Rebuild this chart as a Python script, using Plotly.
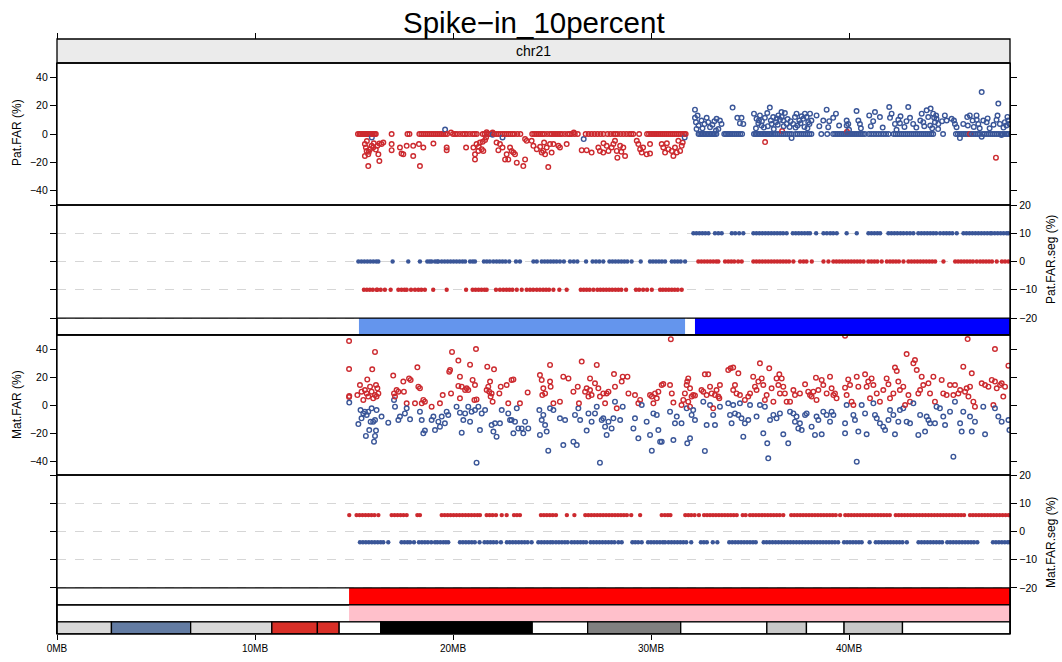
import plotly.graph_objects as go

# ---------------- data ----------------
CHR_LEN = 48.13  # MB
x_tick_vals = [0, 10, 20, 30, 40]
x_tick_text = ["0MB", "10MB", "20MB", "30MB", "40MB"]
far_ticks = [40, 20, 0, -20, -40]
seg_ticks = [20, 10, 0, -10, -20]

# Pat.FAR : points on the zero line (x in MB)
pat_red_zero_x = [15.2,15.28,15.35,15.43,15.5,15.55,15.6,15.65,15.7,15.78,15.85,15.93,16.0,16.05,16.1,16.9,17.7,17.8,
                  18.3,18.4,18.5,18.6,18.7,18.8,18.9,19.0,19.1,19.2,19.3,19.4,19.5,19.6,19.7,
                  20.0,20.1,20.2,20.35,20.5,20.6,20.7,20.85,21.0,21.1,21.2,21.5,21.6,21.7,21.8,21.9,22.0,22.1,
                  22.2,22.3,22.4,22.5,22.6,22.7,22.8,22.9,23.0,23.1,23.25,23.4,24.0,24.1,24.2,24.3,24.4,24.5,
                  24.6,24.75,24.9,25.0,25.1,25.2,25.3,25.4,25.5,25.65,25.8,25.9,26.0,26.15,26.3,26.7,26.85,27.0,
                  27.15,27.3,27.45,27.6,27.8,27.95,28.1,28.2,28.3,28.45,28.6,28.75,28.9,29.0,29.1,29.4,
                  29.8,29.9,30.0,30.1,30.2,30.3,30.4,30.5,30.6,30.7,30.8,30.9,31.0,31.1,31.2,31.3,31.4,31.5,
                  31.6,31.68,31.75]
pat_blue_zero_x = [32.4,32.48,32.55,32.63,32.7,32.78,32.85,32.93,33.0,33.08,33.15,33.22,33.3,33.7,33.78,33.85,
                   33.93,34.0,34.1,34.2,34.3,34.4,34.5,34.6,35.2,35.28,35.35,35.43,35.5,35.58,35.65,35.73,35.8,
                   35.88,35.95,36.02,36.1,36.2,36.3,36.4,36.5,36.6,36.7,36.8,36.9,37.0,37.1,37.3,37.4,37.5,37.6,
                   37.7,37.8,37.9,38.0,38.1,38.6,38.9,39.2,39.3,39.4,39.5,39.6,39.7,39.8,39.9,40.0,40.1,40.2,
                   40.3,40.4,40.5,40.6,40.7,40.8,41.0,41.12,41.25,41.37,41.5,41.62,41.75,41.87,42.0,42.25,42.35,
                   42.45,42.55,42.65,42.75,42.85,42.95,43.05,43.15,43.25,43.35,43.45,43.55,43.65,43.75,43.85,
                   43.95,44.05,44.15,44.25,44.75,45.4,45.5,45.6,45.7,45.8,45.9,46.0,46.1,46.2,46.3,46.4,46.5,
                   46.6,46.75,46.85,46.95,47.05,47.15,47.25,47.35,47.45,47.55,47.65,47.75,47.85,47.95,48.0,48.08]
# Pat.FAR : other points (MB, %)
pat_red_pts = [(15.55,-7.1),(15.6,-9.5),(15.64,-11.9),(15.72,-14.3),(15.55,-15.5),(15.81,-10.7),(15.89,-8.3),
               (15.97,-9.5),(15.72,-22.6),(16.18,-8.3),(16.28,-6.7),(16.39,-7.1),(16.48,-6.0),(16.23,-14.3),
               (16.28,-19.0),(16.9,-7.1),(16.9,-11.4),(17.32,-9.5),(17.4,-13.8),(17.49,-14.3),(17.66,-8.3),
               (17.99,-8.3),(17.99,-15.5),(18.28,-7.1),(18.5,-9.5),(18.33,-22.6),(19.01,-6.7),(19.68,-9.5),
               (19.68,-11.4),(20.66,-9.5),(21.03,-9.5),(21.11,-14.3),(21.11,-17.9),(21.19,-7.1),(21.28,-11.9),
               (21.36,-6.0),(21.45,-10.7),(21.53,-11.9),(21.62,-4.3),(21.67,-2.4),(21.7,1.2),(22.2,-6.0),
               (22.29,-11.4),(22.37,-7.1),(22.63,-17.9),(22.71,-14.3),(22.79,-17.9),(22.88,-9.5),(22.96,-11.9),
               (23.05,-13.1),(23.13,-14.3),(23.22,-20.2),(23.55,-22.6),(23.64,-17.9),(23.64,-3.6),(23.72,-4.8),
               (23.97,-4.8),(24.06,-8.3),(24.23,-10.7),(24.48,-13.1),(24.56,-11.9),(24.65,-14.3),(24.73,-9.5),
               (24.81,-23.3),(24.9,-7.1),(24.98,-13.1),(25.07,-7.1),(25.32,-8.3),(25.4,-9.5),(25.74,-7.1),
               (26.5,-11.4),(26.75,-11.4),(27.0,-13.1),(27.34,-9.5),(27.42,-11.9),(27.59,-13.1),(27.76,-8.3),
               (27.85,-11.9),(28.01,-9.5),(28.18,-4.8),(28.27,-11.9),(28.3,-16.7),(28.44,-8.3),(28.6,-9.5),
               (28.69,-15.5),(29.28,-4.8),(29.36,-7.1),(29.45,-10.7),(29.53,-13.1),(29.78,-14.3),(29.95,-7.1),
               (29.95,-13.8),(30.54,-7.1),(30.62,-9.5),(30.71,-13.1),(30.88,-10.7),(31.05,-11.9),(31.13,-15.5),
               (31.21,-9.5),(31.38,-4.8),(31.47,-11.9),(31.55,-8.3),(19.9,1.0),(22.0,1.0),(26.1,1.0),
               (15.65,-5.0),(15.75,-12.5),(16.0,-6.5),(16.1,-11.0),(21.3,-9.0),(21.5,-5.5),(22.5,-9.5),
               (24.4,-9.0),(24.6,-6.0),(27.6,-6.5),(28.1,-7.0),(28.5,-12.5),(29.6,-9.5),(30.8,-6.5),
               (31.3,-13.0),(31.6,-6.0),
               (36.62,2.1),(35.76,-5.7),(39.9,1.6),(46.11,0.0),(47.42,-16.7)]
pat_blue_pts = [(15.9,-2.4),(19.6,3.1),(22.0,-0.5),(22.5,-2.4),(26.6,-3.6),(31.7,-2.4),
                (32.22,17.1),(32.22,11.4),(32.27,8.3),(32.3,3.6),(32.55,9.5),(32.81,11.4),(32.89,8.3),(32.98,4.8),
                (33.28,2.4),(33.31,10.7),(33.48,9.5),(33.56,7.1),(34.12,18.6),(34.36,11.4),(34.49,7.6),
                (34.57,11.4),(34.66,7.1),(35.2,14.3),(35.33,10.7),(35.42,7.6),(35.5,13.1),(35.58,6.0),
                (35.75,11.4),(35.87,14.8),(36.0,18.6),(36.09,7.1),(36.17,11.9),(36.31,8.3),(36.43,13.1),
                (36.51,10.0),(36.59,15.5),(36.68,9.5),(36.76,14.8),(36.85,7.1),(37.1,-2.9),(37.18,7.1),
                (37.27,11.9),(37.35,14.3),(37.49,9.5),(37.69,10.7),(37.77,14.3),(37.86,11.9),(37.94,8.3),
                (38.03,14.3),(38.36,13.1),(38.7,9.5),(38.87,17.1),(38.95,4.8),(39.2,11.4),(39.34,14.3),
                (39.88,9.5),(39.88,6.0),(39.96,7.1),(40.38,16.2),(40.47,9.5),(40.55,7.1),(41.02,13.1),
                (41.22,9.0),(41.31,15.5),(41.56,11.9),(42.03,19.0),(42.07,11.4),(42.15,14.3),(42.32,7.1),
                (42.49,10.0),(42.57,7.6),(42.99,19.0),(43.08,11.4),(43.24,7.1),(43.67,14.3),(43.75,8.3),
                (43.92,16.7),(44.0,11.9),(44.12,17.9),(44.25,14.3),(44.34,8.3),(44.42,10.7),(44.51,7.1),
                (44.84,13.1),(44.93,9.5),(45.18,10.7),(45.35,7.1),(45.43,4.8),(45.77,7.1),(45.97,11.9),
                (46.1,13.1),(46.24,9.5),(46.44,13.1),(46.53,7.1),(46.7,29.5),(46.78,9.5),(46.95,8.3),
                (47.45,10.0),(47.54,21.4),(47.62,7.1),(47.87,8.3),(48.04,9.5),(48.1,7.1),(45.6,-2.9),
                (46.7,-1.9),(47.7,-0.7),(35.3,4.0),(35.6,9.0),(35.9,5.5),(36.2,3.5),(36.4,6.5),(36.6,12.0),
                (36.9,10.5),(37.0,5.0),(37.4,6.0),(37.6,12.5),(37.9,4.0),(38.1,9.5),(43.8,5.5),(44.1,6.0),
                (44.3,11.5),(44.5,3.5),(44.7,9.0),(42.8,5.0),(46.3,5.0),(46.6,4.0),(47.0,11.0),(47.3,6.5),
                (47.8,4.5),(48.0,12.0),(32.4,6.0),(32.6,4.0),(33.1,6.5),(33.4,3.5),(40.0,3.0),(40.6,4.0),
                (41.1,5.5),(41.7,4.5),(42.4,3.0),(39.0,9.0),(39.5,6.0),(38.5,5.5),(32.35,13.0),(32.7,7.0),
                (33.2,9.0),(35.45,9.5),(35.7,4.5),(36.05,9.5),(36.35,11.0),(36.7,5.5),(37.05,9.0),(37.3,4.5),
                (37.55,7.5),(37.75,5.0),(38.0,7.0),(42.6,12.5),(42.9,9.0),(43.4,4.5),(43.6,9.5),(44.2,4.0),
                (44.4,13.0),(45.3,9.5),(46.0,6.0),(46.45,10.0),(47.1,4.0),(47.5,13.0),(47.95,6.0)]

# Mat.FAR points (MB, %)
mat_red_pts = [(14.75,45.7),(14.75,25.7),(14.75,5.7),(16.06,37.9),(19.95,37.9),(21.16,40.0),(31.0,47.0),
               (14.76,6.4),(15.17,7.1),(15.3,14.3),(15.38,9.5),(15.47,3.6),(15.55,10.7),(15.64,8.3),(15.67,18.3),
               (15.72,6.0),(15.81,13.1),(15.89,9.5),(15.92,25.5),(15.97,4.8),(16.06,7.1),(16.11,14.3),(16.14,6.0),
               (16.18,11.9),(16.23,8.3),(16.98,21.0),(17.02,8.3),(17.07,6.0),(17.15,10.7),(17.24,9.5),(17.49,16.7),
               (17.52,9.5),(17.66,1.2),(17.78,19.0),(17.86,17.9),(18.08,1.2),(18.2,26.9),(18.25,13.1),(18.33,11.9),
               (18.42,1.2),(18.5,3.6),(18.58,2.4),(18.92,-1.2),(19.34,1.2),(19.48,7.1),(19.81,23.8),(19.85,25.0),
               (19.9,8.3),(20.27,31.7),(20.35,20.2),(20.27,13.6),(20.35,4.8),(20.44,13.1),(20.61,10.7),
               (20.69,11.9),(20.77,10.7),(20.86,28.8),(20.99,17.9),(21.08,3.6),(21.11,14.3),(21.19,4.0),
               (21.7,10.7),(21.73,27.4),(21.78,13.1),(21.83,9.5),(21.87,16.7),(21.9,6.0),(21.95,8.3),(22.0,2.4),
               (22.07,25.5),(22.34,8.3),(22.41,13.1),(22.71,14.3),(22.79,1.2),(22.96,17.9),(23.05,18.3),
               (23.38,1.2),(23.77,9.0),(24.39,21.4),(24.48,17.9),(24.51,7.1),(24.56,11.9),(24.65,8.3),
               (24.9,28.6),(24.9,16.7),(24.93,13.1),(25.07,1.2),(25.4,2.4),(25.57,20.2),(25.83,19.0),(26.08,9.5),
               (26.3,13.1),(26.36,1.2),(26.5,31.0),(26.67,9.5),(26.75,11.9),(26.84,6.0),(26.92,10.7),(26.92,19.0),
               (27.0,7.1),(27.17,15.5),(27.26,28.6),(27.34,11.9),(27.42,6.0),(27.59,8.3),(27.68,1.2),(27.76,8.3),
               (27.85,9.5),(28.13,22.1),(28.18,13.1),(28.27,-2.4),(28.52,16.7),(28.57,20.2),(28.81,20.2),
               (28.86,8.3),(29.19,7.1),(29.36,1.2),(29.45,3.6),(29.95,7.1),(30.04,6.0),(30.12,1.2),(30.2,8.3),
               (30.29,4.8),(30.37,9.5),(30.54,14.3),(30.62,15.0),(30.96,14.3),(31.05,8.3),(31.13,1.7),
               (31.54,0.0),(31.63,3.6),(31.71,8.3),(31.8,14.3),(31.83,16.7),(31.88,19.0),(31.97,11.9),(32.05,6.0),
               (32.13,7.1),(32.22,6.7),(31.88,2.4),(31.97,-1.2),(32.55,10.7),(32.64,9.5),(32.72,21.9),(32.89,21.9),
               (32.81,7.1),(32.98,13.1),(33.06,8.3),(33.23,7.1),(33.14,-2.4),(33.31,10.7),(33.4,6.0),(33.48,14.3),
               (33.45,4.8),(33.9,25.0),(34.02,26.2),(34.15,26.7),(34.24,14.3),(34.32,8.3),(34.41,22.6),
               (34.15,10.7),(34.49,7.1),(34.74,3.6),(34.91,6.0),(35.0,8.3),(35.16,20.2),(35.25,13.1),(35.33,10.7),
               (35.5,29.8),(35.42,16.7),(35.59,19.0),(35.67,14.3),(35.75,3.6),(35.84,7.1),(35.97,26.2),
               (36.09,11.9),(36.18,2.4),(36.34,19.0),(36.43,14.3),(36.48,21.9),(36.51,8.3),(36.6,19.0),
               (36.68,13.1),(36.76,8.3),(36.85,2.4),(37.02,2.4),(37.19,10.7),(37.27,7.1),(37.52,8.3),(37.78,14.8),
               (37.94,9.5),(38.03,7.1),(38.11,6.0),(38.2,9.5),(38.33,19.5),(38.36,3.6),(38.45,10.7),(38.62,17.9),
               (38.7,14.3),(38.87,8.3),(39.04,20.2),(39.12,11.9),(39.21,7.1),(39.29,8.3),(39.37,4.8),(39.8,12.4),
               (39.8,49.5),(39.88,7.1),(39.96,18.3),(40.05,14.3),(40.13,2.4),(40.22,0.0),(40.39,20.2),(40.47,13.1),
               (40.81,21.9),(40.89,13.1),(40.97,16.7),(41.06,4.8),(41.14,19.0),(41.23,14.3),(41.4,8.3),
               (41.56,2.4),(41.73,10.7),(41.9,19.0),(41.99,14.8),(42.07,4.8),(42.24,8.3),(42.32,26.7),
               (42.41,24.3),(42.49,16.7),(42.57,10.7),(42.74,13.1),(42.83,0.0),(42.91,36.4),(43.0,7.1),
               (43.08,2.4),(43.25,29.8),(43.33,32.1),(43.42,25.0),(43.5,8.3),(43.59,10.7),(43.67,20.2),
               (43.75,14.3),(44.01,15.5),(44.09,8.3),(44.26,20.2),(44.34,2.4),(44.68,17.9),(44.76,8.3),
               (44.93,7.1),(45.1,14.3),(45.27,7.1),(45.35,14.3),(45.52,8.3),(45.61,10.7),(45.77,27.4),(45.86,9.5),
               (45.94,11.9),(45.99,47.1),(46.03,6.0),(46.11,13.1),(46.2,22.6),(46.28,2.4),(46.36,-1.2),
               (46.7,15.5),(46.87,14.3),(47.04,13.1),(47.21,17.9),(47.29,0.0),(47.37,40.0),(47.37,16.7),
               (47.46,11.9),(47.63,14.3),(47.71,15.5),(47.79,6.0),(47.88,13.1),(48.05,28.1)]
mat_blue_pts = [(14.76,1.7),(15.22,-13.6),(15.33,-3.6),(15.38,-9.5),(15.47,-6.0),(15.55,-4.8),(15.6,-22.1),
                (15.64,-7.1),(15.72,-4.8),(15.77,-17.9),(15.84,-11.9),(15.89,-2.4),(15.97,-11.9),(16.01,-26.2),
                (16.06,-10.7),(16.06,-22.1),(16.11,-18.3),(16.14,-3.6),(16.39,-8.3),(16.73,-12.6),(17.02,3.6),
                (17.07,-1.2),(17.24,-10.7),(17.32,-8.3),(17.57,-6.0),(17.66,-2.4),(17.83,-10.2),(18.33,-4.8),
                (18.42,-10.7),(18.5,-20.2),(18.58,-18.3),(18.92,-10.7),(19.01,-8.3),(19.09,-17.9),(19.26,-11.9),
                (19.34,-15.5),(19.43,-8.3),(19.59,-13.1),(19.68,-4.8),(19.76,-7.1),(20.18,-1.2),(20.35,-5.5),
                (20.44,-19.8),(20.52,-10.7),(20.61,-6.0),(20.77,-1.2),(20.86,-11.9),(20.94,-4.8),(21.11,-3.6),
                (21.19,-41.2),(21.28,-1.2),(21.36,-17.9),(21.45,-6.0),(21.62,-3.6),(21.95,-14.3),(22.04,-19.0),
                (22.12,-13.1),(22.2,-22.6),(22.37,-13.1),(22.46,-3.6),(22.79,-6.0),(22.88,-10.7),(22.96,-10.7),
                (23.05,-20.2),(23.13,-11.9),(23.22,-2.4),(23.3,-16.7),(23.47,-16.7),(23.55,-20.2),(23.64,-11.9),
                (23.8,-16.7),(24.36,-3.6),(24.39,-21.4),(24.48,-10.7),(24.56,-7.1),(24.65,-14.3),(24.73,-19.0),
                (24.81,-32.6),(24.9,-2.4),(25.07,-3.6),(25.4,-9.5),(25.57,-28.6),(25.66,-10.7),(26.08,-26.2),
                (26.16,-7.1),(26.25,-28.6),(26.33,-2.4),(26.42,-10.7),(26.75,-18.3),(26.84,-6.0),(27.0,-11.9),
                (27.17,-6.0),(27.26,-1.2),(27.42,-41.2),(27.51,-10.7),(27.59,-9.5),(27.68,-15.5),(27.76,-21.4),
                (27.85,-11.9),(28.01,-16.7),(28.1,-9.5),(28.18,2.4),(28.44,-10.7),(28.57,-1.2),(29.11,-16.7),
                (29.19,-9.5),(29.36,-23.8),(29.53,0.0),(29.78,-11.9),(29.95,-21.4),(30.04,-32.6),(30.12,-6.0),
                (30.29,-7.1),(30.37,-17.9),(30.46,-26.2),(30.54,-26.2),(30.96,-4.8),(31.13,-25.0),(31.21,-13.1),
                (31.3,-8.3),(31.54,-13.1),(31.8,-2.4),(31.83,-27.4),(31.97,-23.8),(32.05,-7.1),(32.13,-3.6),
                (32.22,-10.7),(32.64,2.4),(32.72,-32.8),(32.81,-14.3),(32.98,0.0),(33.14,-7.1),(33.23,-14.3),
                (33.48,-1.2),(33.9,1.2),(33.99,-7.1),(34.07,-13.1),(34.15,0.0),(34.24,-6.0),(34.41,-7.1),
                (34.49,1.2),(34.57,-9.5),(34.66,-22.6),(34.74,-13.1),(34.91,-10.7),(35.0,0.0),(35.33,-8.3),
                (35.5,0.0),(35.67,-20.2),(35.75,-1.2),(35.87,-27.4),(35.92,-38.1),(36.01,-10.7),(36.18,-7.1),
                (36.34,-9.5),(36.51,-6.0),(36.68,-20.9),(36.93,-27.4),(37.02,-4.8),(37.19,-6.0),(37.27,-11.9),
                (37.35,-8.3),(37.44,-16.7),(37.52,-13.1),(37.61,-17.9),(37.78,-7.1),(37.86,-6.0),(38.11,-15.5),
                (38.28,-21.4),(38.36,-8.3),(38.45,-10.7),(38.62,-20.9),(38.7,-4.8),(38.87,-7.1),(39.04,-11.9),
                (39.12,-4.8),(39.21,-7.1),(39.8,-13.1),(39.8,-20.2),(39.88,0.0),(40.22,-7.1),(40.3,-10.7),
                (40.39,-40.5),(40.47,-19.0),(40.64,0.0),(40.81,-6.0),(40.89,-20.9),(41.23,1.2),(41.31,-7.1),
                (41.4,-9.5),(41.56,-13.1),(41.73,-15.5),(41.82,-17.9),(41.99,-10.7),(42.07,-3.6),(42.24,-7.1),
                (42.32,-20.9),(42.49,-11.9),(42.57,-3.6),(42.74,-2.4),(42.91,-11.9),(43.08,-13.1),(43.25,1.2),
                (43.5,-21.4),(43.59,-7.1),(43.84,-19.0),(43.92,-8.3),(44.01,-10.7),(44.09,-13.1),(44.34,-13.1),
                (44.42,-1.2),(44.59,-2.4),(44.76,-8.3),(44.85,-14.3),(45.1,-4.8),(45.27,-36.9),(45.35,2.4),
                (45.61,-13.1),(45.69,-19.0),(45.77,-4.8),(46.11,-8.3),(46.2,-19.0),(46.36,-11.9),(46.78,-1.2),
                (46.87,-20.9),(47.37,-2.4),(47.54,-8.3),(47.71,-11.9),(48.05,-10.7),(48.1,-17.9)]

# Pat.FAR.seg probes (x in MB) and their segment levels (%)
pat_seg_blue_lo_x = [15.22,15.37,15.52,15.67,15.82,15.97,16.12,16.23,16.95,17.74,18.33,18.7,18.82,18.92,19.09,19.2,
                     19.26,19.43,19.58,19.73,19.88,20.03,20.18,20.33,20.48,20.61,20.86,21.0,21.11,21.56,21.71,21.86,
                     22.04,22.2,22.35,22.5,22.65,22.84,23.18,23.38,24.06,24.23,24.48,24.63,24.78,24.93,25.08,25.23,
                     25.4,25.6,25.91,26.1,26.28,26.72,27.05,27.22,27.39,27.59,27.9,28.05,28.2,28.35,28.5,28.65,28.8,
                     29.02,29.48,29.95,30.1,30.25,30.4,30.55,30.71,31.05,31.2,31.35,31.5,31.72]
pat_seg_red_lo_x = [15.5,15.65,15.8,15.95,16.14,16.18,16.35,16.56,16.85,17.24,17.4,17.55,17.66,17.88,18.08,18.25,
                    18.4,18.58,19.0,19.68,20.66,20.99,21.14,21.29,21.44,21.59,21.7,22.17,22.37,22.54,22.7,22.85,
                    23.0,23.22,23.47,23.72,23.89,24.05,24.23,24.39,24.55,24.7,24.85,25.07,25.37,25.74,26.45,26.6,
                    26.75,26.9,27.09,27.29,27.44,27.59,27.74,27.89,28.04,28.2,28.35,28.5,28.74,29.24,29.4,29.6,
                    29.8,30.04,30.46,30.6,30.75,30.9,31.05,31.2,31.35,31.55]
pat_seg_blue_hi_x = [32.14,32.29,32.44,32.59,32.74,32.9,33.23,33.4,33.57,34.08,34.25,34.45,34.66,35.17,35.32,35.47,
                     35.62,35.77,35.92,36.07,36.22,36.37,36.52,36.67,36.85,37.16,37.31,37.46,37.61,37.76,37.91,38.03,
                     38.34,38.71,38.88,39.05,39.2,39.38,39.88,40.39,40.98,41.13,41.28,41.43,41.57,41.99,42.14,42.29,
                     42.44,42.6,42.75,42.92,43.08,43.25,43.5,43.65,43.8,43.95,44.1,44.25,44.4,44.6,44.77,44.92,45.07,
                     45.22,45.44,45.78,45.93,46.08,46.23,46.38,46.53,46.68,46.83,46.98,47.13,47.21,47.36,47.51,47.66,
                     47.81,47.96,48.05]
pat_seg_red_hi_x = [32.39,32.54,32.69,32.84,32.99,33.14,33.29,33.4,33.74,33.9,34.05,34.2,34.4,34.58,35.17,35.32,
                    35.47,35.62,35.77,35.92,36.07,36.22,36.37,36.52,36.67,36.82,36.97,37.19,37.53,37.7,37.85,38.12,
                    38.71,38.96,39.21,39.36,39.51,39.66,39.81,39.96,40.11,40.26,40.41,40.56,40.73,40.98,41.13,41.28,
                    41.43,41.65,41.91,42.07,42.22,42.37,42.52,42.75,43.0,43.15,43.3,43.45,43.6,43.75,43.9,44.05,
                    44.2,44.35,44.77,45.36,45.51,45.66,45.81,45.96,46.11,46.26,46.45,46.62,46.77,46.92,47.07,47.22,
                    47.46,47.72,47.88,48.05]
pat_seg_levels = {"blue_lo": 0, "red_lo": -10, "blue_hi": 10, "red_hi": 0}

# Mat.FAR.seg probes
mat_seg_red_x = [14.76,15.13,15.28,15.43,15.58,15.73,15.88,16.03,16.23,16.9,17.05,17.2,17.35,17.5,17.66,18.2,18.33,
                 19.43,19.58,19.73,19.88,20.03,20.18,20.33,20.48,20.63,20.78,20.93,21.08,21.23,21.36,21.7,21.85,
                 22.0,22.17,22.46,22.71,23.08,23.23,23.38,24.44,24.59,24.74,24.89,25.04,25.2,25.75,26.13,26.68,
                 26.83,26.98,27.13,27.28,27.43,27.58,27.73,27.88,28.03,28.18,28.33,28.48,28.63,28.78,29.0,29.45,
                 30.54,30.7,30.85,30.98,31.73,31.88,32.03,32.2,32.42,32.68,32.83,32.98,33.13,33.28,33.43,33.58,
                 33.73,33.88,34.03,34.18,34.33,34.63,34.78,35.0,35.15,35.3,35.45,35.6,35.75,35.9,36.05,36.2,
                 36.35,36.5,36.68,37.08,37.23,37.38,37.53,37.68,37.83,37.98,38.13,38.28,38.43,38.58,38.73,38.88,
                 39.03,39.18,39.33,39.55,39.81,39.96,40.11,40.26,40.41,40.56,40.71,40.86,41.01,41.16,41.31,41.46,
                 41.61,41.76,41.91,42.06,42.36,42.51,42.66,42.81,42.96,43.11,43.26,43.41,43.56,43.71,43.86,44.01,
                 44.16,44.31,44.46,44.61,44.76,44.91,45.06,45.21,45.36,45.51,45.66,45.81,46.11,46.26,46.41,46.56,
                 46.71,46.86,47.01,47.16,47.31,47.46,47.61,47.76,47.91,48.06]
mat_seg_blue_x = [15.3,15.45,15.6,15.75,15.9,16.05,16.2,16.35,16.48,16.73,17.4,17.55,17.7,17.83,18.03,18.28,18.43,
                  18.58,18.73,18.9,19.09,19.21,19.36,19.51,19.64,19.76,20.35,20.5,20.65,20.8,20.95,21.1,21.34,
                  21.59,21.74,21.89,22.04,22.2,22.42,22.72,22.87,23.02,23.17,23.32,23.47,23.62,23.77,23.97,24.31,
                  24.46,24.61,24.76,24.91,25.04,25.2,25.35,25.5,25.65,25.79,25.99,26.14,26.29,26.44,26.58,26.72,
                  26.95,27.1,27.25,27.4,27.55,27.7,27.85,28.0,28.15,28.35,28.52,29.06,29.2,29.35,29.53,29.85,30.0,
                  30.15,30.3,30.45,30.6,30.71,30.88,31.03,31.18,31.33,31.48,31.63,31.78,32.03,32.52,32.67,32.82,
                  33.12,33.35,33.95,34.1,34.25,34.4,34.55,34.7,34.85,35.0,35.15,35.29,35.69,35.84,35.99,36.14,
                  36.29,36.44,36.59,36.74,36.89,37.04,37.19,37.34,37.49,37.64,37.79,37.94,38.09,38.24,38.39,38.54,
                  38.69,38.84,38.99,39.14,39.29,39.45,39.75,39.9,40.05,40.2,40.35,40.5,40.64,41.04,41.35,41.5,
                  41.65,41.8,41.95,42.1,42.25,42.4,42.55,42.7,42.92,43.51,43.66,43.81,43.96,44.11,44.26,44.41,
                  44.56,44.7,44.96,45.11,45.26,45.41,45.56,45.71,45.86,46.01,46.16,46.31,46.48,47.27,47.42,47.57,
                  47.72,47.87,48.02,48.1]
mat_seg_levels = {"red": 5.8, "blue": -3.8}

# segment state bars (MB)
pat_bar_start = [15.25, 32.22]
pat_bar_end = [31.72, 48.13]
pat_bar_color = ["#6495ED", "#0000FF"]
mat_bar_start = [14.75, 14.75]
mat_bar_end = [48.13, 48.13]
mat_bar_color = ["#FF0000", "#FFC0CB"]

# chr21 ideogram bands (MB)
band_start = [0, 2.75, 6.75, 10.85, 13.15, 14.25, 16.35, 24.0, 26.8, 31.5, 35.85, 37.85, 39.75, 42.7]
band_end = [2.75, 6.75, 10.85, 13.15, 14.25, 16.35, 24.0, 26.8, 31.5, 35.85, 37.85, 39.75, 42.7, 48.13]
band_color = ["#D9D9D9", "#637CA3", "#D9D9D9", "#D92F27", "#D92F27", "#FFFFFF", "#000000", "#FFFFFF",
              "#808080", "#FFFFFF", "#C8C8C8", "#FFFFFF", "#C8C8C8", "#FFFFFF"]

# ---------------- styling / layout ----------------
RED = "#CC2A2F"
BLUE = "#3A5698"
FONT = "Liberation Sans, Arial, sans-serif"
W, H = 1062, 662
ML, MR, MT, MB_ = 57, 52, 39, 28
PH = H - MT - MB_
PW = W - ML - MR


def py(p):
    return (H - MB_ - p) / PH


def px(p):
    return (p - ML) / PW


dom1 = [py(205), py(63)]
dom2 = [py(335), py(205)]
dom3 = [py(475), py(335)]
dom4 = [0, py(475)]
strip = [py(63), 1]


def merged(red, blue):
    pts = [(x, y, RED) for x, y in red] + [(x, y, BLUE) for x, y in blue]
    pts.sort(key=lambda p: p[0])
    return [p[0] for p in pts], [p[1] for p in pts], [p[2] for p in pts]


fig = go.Figure()

# Pat.FAR
pr = [(x, 0) for x in pat_red_zero_x] + pat_red_pts
pb = [(x, 0) for x in pat_blue_zero_x] + pat_blue_pts
xs, ys, cs = merged(pr, pb)
fig.add_trace(go.Scatter(x=xs, y=ys, mode="markers", xaxis="x", yaxis="y",
                         marker=dict(symbol="circle-open", size=4.6, color=cs, line=dict(width=1.4))))
# Mat.FAR
xs, ys, cs = merged(mat_red_pts, mat_blue_pts)
fig.add_trace(go.Scatter(x=xs, y=ys, mode="markers", xaxis="x", yaxis="y3",
                         marker=dict(symbol="circle-open", size=4.6, color=cs, line=dict(width=1.4))))


def seg(xv, level, color, yax):
    fig.add_trace(go.Scatter(x=xv, y=[level] * len(xv), mode="markers", xaxis="x", yaxis=yax,
                             marker=dict(symbol="circle", size=4.4, color=color, line=dict(width=0))))


seg(pat_seg_blue_lo_x, pat_seg_levels["blue_lo"], BLUE, "y2")
seg(pat_seg_red_lo_x, pat_seg_levels["red_lo"], RED, "y2")
seg(pat_seg_blue_hi_x, pat_seg_levels["blue_hi"], BLUE, "y2")
seg(pat_seg_red_hi_x, pat_seg_levels["red_hi"], RED, "y2")
seg(mat_seg_red_x, mat_seg_levels["red"], RED, "y4")
seg(mat_seg_blue_x, mat_seg_levels["blue"], BLUE, "y4")

# invisible trace for the top tick axis
fig.add_trace(go.Scatter(x=[0, CHR_LEN], y=[0, 0], mode="markers", xaxis="x2", yaxis="y",
                         marker=dict(opacity=0), hoverinfo="skip"))

shapes = []
# strip
shapes.append(dict(type="rect", xref="paper", yref="paper", x0=0, x1=1, y0=strip[0], y1=1,
                   fillcolor="#EBEBEB", line=dict(color="black", width=1.3), layer="below"))
# Pat bar
for s, e, c in zip(pat_bar_start, pat_bar_end, pat_bar_color):
    shapes.append(dict(type="rect", xref="x", yref="y2", x0=s, x1=e, y0=-26, y1=-20,
                       fillcolor=c, line=dict(width=0), layer="above"))
shapes.append(dict(type="rect", xref="x", yref="y2", x0=0, x1=CHR_LEN, y0=-26, y1=-20,
                   fillcolor="rgba(0,0,0,0)", line=dict(color="black", width=1.3), layer="above"))
# Mat bars
for i, (s, e, c) in enumerate(zip(mat_bar_start, mat_bar_end, mat_bar_color)):
    y1 = -20 - 6 * i
    shapes.append(dict(type="rect", xref="x", yref="y4", x0=s, x1=e, y0=y1 - 6, y1=y1,
                       fillcolor=c, line=dict(width=0), layer="above"))
    shapes.append(dict(type="rect", xref="x", yref="y4", x0=0, x1=CHR_LEN, y0=y1 - 6, y1=y1,
                       fillcolor="rgba(0,0,0,0)", line=dict(color="black", width=1.3), layer="above"))
# ideogram
for s, e, c in zip(band_start, band_end, band_color):
    shapes.append(dict(type="rect", xref="x", yref="y4", x0=s, x1=e, y0=-36.3, y1=-32,
                       fillcolor=c, line=dict(color="black", width=1.3), layer="above"))
# panel borders
for d in (dom1, dom2, dom3, dom4):
    shapes.append(dict(type="rect", xref="paper", yref="paper", x0=0, x1=1, y0=d[0], y1=d[1],
                       fillcolor="rgba(0,0,0,0)", line=dict(color="black", width=1.3), layer="above"))

tickfont = dict(family=FONT, size=10.5, color="black")
common_y = dict(anchor="x", ticks="outside", ticklen=6, tickwidth=1, tickcolor="black",
                mirror="ticks", showline=True, linecolor="black", linewidth=1.3, automargin=False,
                zeroline=False, tickfont=tickfont, fixedrange=True)

fig.update_layout(
    width=W, height=H, autosize=False,
    margin=dict(l=ML, r=MR, t=MT, b=MB_, pad=0),
    paper_bgcolor="white", plot_bgcolor="white",
    showlegend=False,
    shapes=shapes,
    xaxis=dict(domain=[0, 1], range=[0, CHR_LEN], anchor="y4", tickvals=x_tick_vals, ticktext=x_tick_text,
               ticks="outside", ticklen=5, tickwidth=1, tickcolor="black", showgrid=False, zeroline=False,
               showline=False, automargin=False, tickfont=dict(family=FONT, size=10, color="black")),
    xaxis2=dict(overlaying="x", range=[0, CHR_LEN], anchor="free", position=1, side="top",
                tickvals=x_tick_vals, ticks="outside", ticklen=6, tickwidth=1, tickcolor="black",
                showticklabels=False, showgrid=False, zeroline=False, showline=False, automargin=False),
    yaxis=dict(domain=dom1, range=[-50, 50], tickvals=far_ticks, side="left", showgrid=False, **common_y),
    yaxis2=dict(domain=dom2, range=[-26, 20], tickvals=seg_ticks, side="right", showgrid=True,
                gridcolor="#D6D6D6", griddash="dash", gridwidth=1, **common_y),
    yaxis3=dict(domain=dom3, range=[-50, 50], tickvals=far_ticks, side="left", showgrid=False, **common_y),
    yaxis4=dict(domain=dom4, range=[-36.3, 20], tickvals=seg_ticks, side="right", showgrid=True,
                gridcolor="#D6D6D6", griddash="dash", gridwidth=1, **common_y),
)

ann = [
    dict(text="Spike\u2212in_10percent", x=px(533.5), y=py(22), font=dict(family=FONT, size=29.5, color="black")),
    dict(text="chr21", x=0.5, y=py(51), font=dict(family=FONT, size=14, color="black")),
    dict(text="Pat.FAR (%)", x=px(17), y=py(133), textangle=-90, font=dict(family=FONT, size=12, color="black")),
    dict(text="Mat.FAR (%)", x=px(17), y=py(405), textangle=-90, font=dict(family=FONT, size=12, color="black")),
    dict(text="Pat.FAR.seg (%)", x=px(1051), y=py(260), textangle=-90,
         font=dict(family=FONT, size=12, color="black")),
    dict(text="Mat.FAR.seg (%)", x=px(1051), y=py(543), textangle=-90,
         font=dict(family=FONT, size=12, color="black")),
]
for a in ann:
    a.update(xref="paper", yref="paper", showarrow=False, xanchor="center", yanchor="middle")
fig.update_layout(annotations=ann)

fig.write_html("out.html")
